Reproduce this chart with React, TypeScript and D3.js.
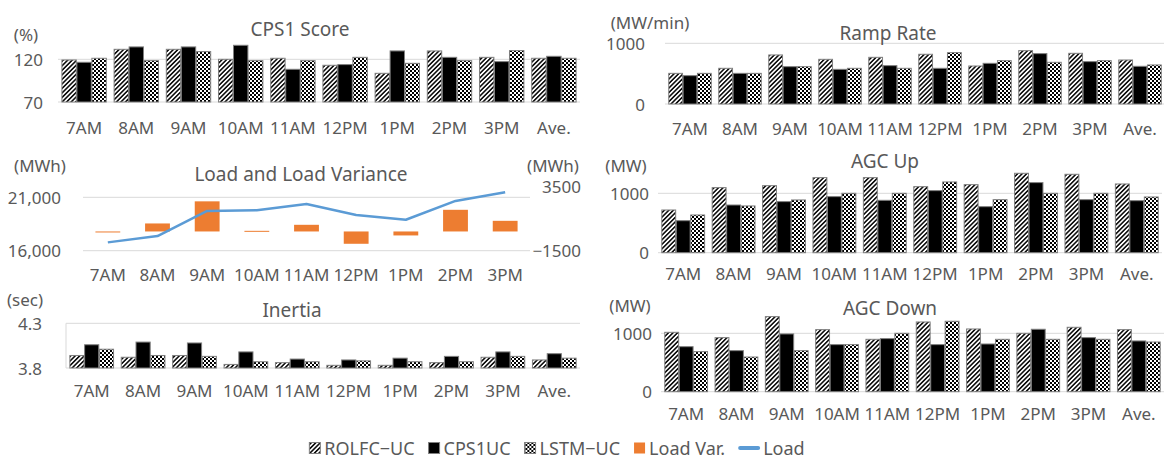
import React, { useEffect, useRef } from 'react';
import * as d3 from 'd3';

const hours = ['7AM', '8AM', '9AM', '10AM', '11AM', '12PM', '1PM', '2PM', '3PM'];
const categories = [...hours, 'Ave.'];
const legendNames = ['ROLFC−UC', 'CPS1UC', 'LSTM−UC', 'Load Var.', 'Load'];

// CPS1 score (%)
const cpsRolfc = [119.2, 131.7, 131.7, 120.0, 121.2, 113.0, 103.6, 129.8, 122.3, 121.2];
const cpsCps1 = [116.5, 134.5, 134.5, 136.4, 108.3, 113.8, 129.8, 122.3, 117.3, 123.5];
const cpsLstm = [121.2, 118.4, 129.0, 118.4, 118.4, 122.3, 115.3, 118.4, 130.2, 121.2];

// ramp rate (MW/min)
const rampRolfc = [505, 588, 808, 736, 769, 819, 626, 879, 835, 725];
const rampCps1 = [467, 505, 615, 571, 632, 588, 670, 830, 698, 621];
const rampLstm = [505, 505, 615, 588, 588, 846, 714, 687, 714, 643];

// load (MWh) and load variance (MWh)
const loadValues = [16780, 17375, 19720, 19780, 20375, 19340, 18900, 20660, 21470];
const loadVar = [-40, 625, 2350, 50, 520, -960, -310, 1690, 830];

// AGC up / down (MW)
const upRolfc = [719, 1096, 1129, 1264, 1264, 1112, 1146, 1337, 1320, 1157];
const upCps1 = [539, 803, 860, 944, 882, 1045, 775, 1180, 893, 876];
const upLstm = [635, 787, 888, 1000, 1000, 1191, 893, 1000, 1000, 938];

const downRolfc = [1017, 926, 1286, 1063, 897, 1194, 1074, 1000, 1103, 1063];
const downCps1 = [771, 703, 989, 806, 909, 806, 817, 1069, 926, 869];
const downLstm = [686, 594, 703, 806, 1000, 1206, 897, 897, 897, 851];

// inertia (sec)
const inertiaRolfc = [3.94, 3.92, 3.94, 3.84, 3.86, 3.83, 3.83, 3.86, 3.92, 3.89];
const inertiaCps1 = [4.06, 4.09, 4.08, 3.98, 3.9, 3.89, 3.91, 3.93, 3.98, 3.96];
const inertiaLstm = [4.01, 3.94, 3.93, 3.87, 3.87, 3.88, 3.87, 3.87, 3.93, 3.91];

const FONT = '"Noto Sans", sans-serif';
const GRAY = '#595959';
const GRID = '#d9d9d9';
const EDGE = '#7f7f7f';
const ORANGE = '#ED7D31';
const BLUE = '#5B9BD5';
const fills = ['url(#hatch)', '#000', 'url(#checker)'];

function addPatterns(svg) {
  const defs = svg.append('defs');
  const hatch = defs.append('pattern')
    .attr('id', 'hatch')
    .attr('patternUnits', 'userSpaceOnUse')
    .attr('width', 3.2)
    .attr('height', 3.2)
    .attr('patternTransform', 'rotate(45)');
  hatch.append('rect').attr('width', 3.2).attr('height', 3.2).attr('fill', '#fff');
  hatch.append('line')
    .attr('x1', 0.8).attr('y1', -1).attr('x2', 0.8).attr('y2', 5)
    .attr('stroke', '#000').attr('stroke-width', 1.5);

  const checker = defs.append('pattern')
    .attr('id', 'checker')
    .attr('patternUnits', 'userSpaceOnUse')
    .attr('width', 4)
    .attr('height', 4);
  checker.append('rect').attr('width', 4).attr('height', 4).attr('fill', '#fff');
  checker.append('rect').attr('width', 2).attr('height', 2).attr('fill', '#000');
  checker.append('rect').attr('x', 2).attr('y', 2).attr('width', 2).attr('height', 2).attr('fill', '#000');
}

function label(g, x, y, str, size, anchor = 'middle') {
  return g.append('text')
    .attr('x', x)
    .attr('y', y)
    .attr('text-anchor', anchor)
    .attr('dominant-baseline', 'central')
    .attr('font-family', FONT)
    .attr('font-size', size)
    .attr('fill', GRAY)
    .text(str);
}

function drawBarPanel(svg, cfg) {
  const g = svg.append('g');
  const x0 = d3.scaleBand().domain(categories).range(cfg.xRange).paddingInner(0.15).paddingOuter(0.075);
  const x1 = d3.scaleBand().domain(['r', 'c', 'l']).range([0, x0.bandwidth()]).paddingInner(0.04);
  const y = d3.scaleLinear().domain(cfg.domain).range(cfg.yRange);
  const base = y(cfg.domain[0]);

  g.selectAll('.grid').data(cfg.ticks).enter().append('line')
    .attr('x1', cfg.xRange[0]).attr('x2', cfg.xRange[1])
    .attr('y1', d => y(d)).attr('y2', d => y(d))
    .attr('stroke', GRID).attr('stroke-width', 1);
  if (cfg.axisLine) {
    g.append('line')
      .attr('x1', cfg.xRange[0]).attr('x2', cfg.xRange[0])
      .attr('y1', y(cfg.domain[1])).attr('y2', base)
      .attr('stroke', GRID);
  }

  cfg.series.forEach((vals, s) => {
    const key = ['r', 'c', 'l'][s];
    g.selectAll('.bar' + key).data(vals).enter().append('rect')
      .attr('x', (d, i) => x0(categories[i]) + x1(key))
      .attr('y', d => y(d))
      .attr('width', x1.bandwidth())
      .attr('height', d => base - y(d))
      .attr('fill', fills[s])
      .attr('stroke', EDGE)
      .attr('stroke-width', 1);
  });

  cfg.ticks.forEach(t => label(g, cfg.tickX, y(t), cfg.fmt(t), 17, 'end'));
  categories.forEach(c => label(g, x0(c) + x0.bandwidth() / 2, cfg.labelY, c, 17));
  label(g, cfg.titleX, cfg.titleY, cfg.title, 19);
  label(g, cfg.unitX, cfg.unitY, cfg.unit, 17);
}

function drawLoadPanel(svg) {
  const g = svg.append('g');
  const xRange = [83, 530];
  const x = d3.scaleBand().domain(hours).range(xRange).paddingInner(0.5).paddingOuter(0.25);
  const yLoad = d3.scaleLinear().domain([16000, 21000]).range([250.7, 197.3]);
  const yVar = d3.scaleLinear().domain([-1500, 3500]).range([250.7, 186.6]);

  [16000, 21000].forEach(t => {
    g.append('line')
      .attr('x1', xRange[0]).attr('x2', xRange[1])
      .attr('y1', yLoad(t)).attr('y2', yLoad(t))
      .attr('stroke', GRID);
  });

  g.selectAll('.var').data(loadVar).enter().append('rect')
    .attr('x', (d, i) => x(hours[i]))
    .attr('y', d => Math.min(yVar(d), yVar(0)))
    .attr('width', x.bandwidth())
    .attr('height', d => Math.max(Math.abs(yVar(d) - yVar(0)), 1))
    .attr('fill', ORANGE);

  const line = d3.line()
    .x((d, i) => x(hours[i]) + x.bandwidth() / 2)
    .y(d => yLoad(d));
  g.append('path')
    .attr('d', line(loadValues))
    .attr('fill', 'none')
    .attr('stroke', BLUE)
    .attr('stroke-width', 2.5)
    .attr('stroke-linejoin', 'round');

  const fmtLeft = d3.format(',');
  const fmtRight = d3.format('d');
  [16000, 21000].forEach(t => label(g, 61, yLoad(t), fmtLeft(t), 17, 'end'));
  [-1500, 3500].forEach(t => label(g, 581, yVar(t), fmtRight(t), 17, 'end'));
  hours.forEach(h => label(g, x(h) + x.bandwidth() / 2, 274, h, 17));
  label(g, 301, 174, 'Load and Load Variance', 19);
  label(g, 40, 165, '(MWh)', 17);
  label(g, 553, 165, '(MWh)', 17);
}

function drawLegend(svg) {
  const g = svg.append('g');
  const cy = 448;
  let cursor = 0;
  legendNames.forEach((name, i) => {
    const isLine = i === 4;
    const sw = isLine ? 20 : 11;
    if (isLine) {
      g.append('line')
        .attr('x1', cursor + 1).attr('x2', cursor + sw - 1)
        .attr('y1', cy).attr('y2', cy)
        .attr('stroke', BLUE).attr('stroke-width', 4).attr('stroke-linecap', 'round');
    } else {
      g.append('rect')
        .attr('x', cursor).attr('y', cy - 5.5)
        .attr('width', sw).attr('height', sw)
        .attr('fill', i < 3 ? fills[i] : ORANGE)
        .attr('stroke', i < 3 ? EDGE : 'none');
    }
    const t = label(g, cursor + sw + 4, cy, name, 18, 'start');
    cursor += sw + 4 + t.node().getComputedTextLength() + 14;
  });
  const total = cursor - 14;
  g.attr('transform', `translate(${557 - total / 2},0)`);
}

export default function App() {
  const ref = useRef(null);

  useEffect(() => {
    const root = d3.select(ref.current);
    root.selectAll('*').remove();
    const svg = root.append('svg')
      .attr('width', 1164)
      .attr('height', 460)
      .style('position', 'absolute')
      .style('left', 0)
      .style('top', 0)
      .style('background', '#fff');
    addPatterns(svg);

    const fmtInt = d3.format('d');
    drawBarPanel(svg, {
      series: [cpsRolfc, cpsCps1, cpsLstm],
      xRange: [58, 580], domain: [70, 120], yRange: [102, 59.3], ticks: [70, 120], fmt: fmtInt,
      tickX: 43, labelY: 127, title: 'CPS1 Score', titleX: 300, titleY: 29, unit: '(%)', unitX: 26, unitY: 34,
    });
    drawBarPanel(svg, {
      series: [rampRolfc, rampCps1, rampLstm],
      xRange: [665, 1165], domain: [0, 1000], yRange: [104, 43.3], ticks: [0, 1000], fmt: fmtInt,
      tickX: 645, labelY: 128, title: 'Ramp Rate', titleX: 888, titleY: 33, unit: '(MW/min)', unitX: 650, unitY: 22,
    });
    drawLoadPanel(svg);
    drawBarPanel(svg, {
      series: [upRolfc, upCps1, upLstm],
      xRange: [658, 1162], domain: [0, 1000], yRange: [252.7, 193.3], ticks: [0, 1000], fmt: fmtInt,
      tickX: 649, labelY: 273, title: 'AGC Up', titleX: 885, titleY: 161, unit: '(MW)', unitX: 626, unitY: 165,
    });
    drawBarPanel(svg, {
      series: [inertiaRolfc, inertiaCps1, inertiaLstm],
      xRange: [66, 580], domain: [3.8, 4.3], yRange: [368, 323.3], ticks: [3.8, 4.3], fmt: d3.format('.1f'),
      tickX: 42, labelY: 390, title: 'Inertia', titleX: 292, titleY: 310, unit: '(sec)', unitX: 25, unitY: 299,
      axisLine: true,
    });
    drawBarPanel(svg, {
      series: [downRolfc, downCps1, downLstm],
      xRange: [661, 1164], domain: [0, 1000], yRange: [391.7, 333.3], ticks: [0, 1000], fmt: fmtInt,
      tickX: 652, labelY: 413, title: 'AGC Down', titleX: 890, titleY: 308, unit: '(MW)', unitX: 630, unitY: 305,
    });
    drawLegend(svg);
  }, []);

  return <div ref={ref} />;
}
